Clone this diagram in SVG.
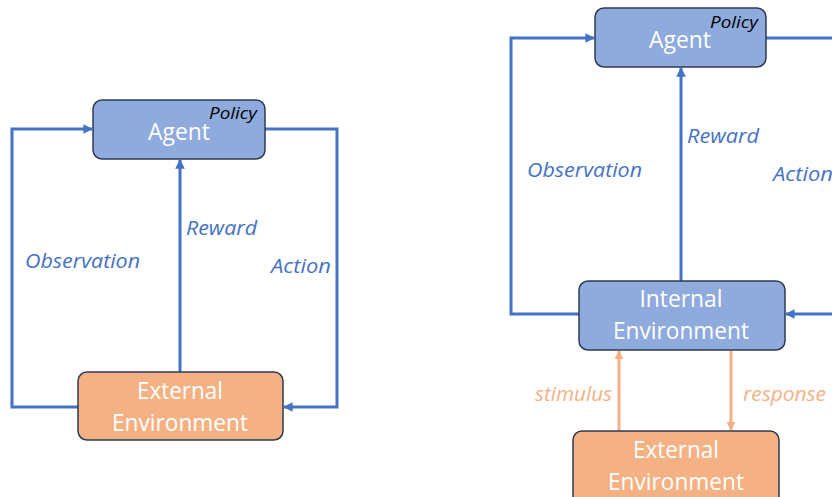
<svg xmlns="http://www.w3.org/2000/svg" width="832" height="497" viewBox="0 0 832 497">
  <style>
    .box { stroke: #2E3B55; stroke-width: 1.5; }
    .blue { fill: #8FAADC; }
    .orange { fill: #F4B183; }
    .name { font-family: "Open Sans", "Liberation Sans", sans-serif; font-size: 23px; fill: #FFFFFF; text-anchor: middle; }
    .policy { font-family: "Open Sans", "Liberation Sans", sans-serif; font-size: 16.5px; font-style: italic; fill: #000000; }
    .lbl { font-family: "Open Sans", "Liberation Sans", sans-serif; font-size: 19.5px; font-style: italic; fill: #4472C4; }
    .lblo { font-family: "Open Sans", "Liberation Sans", sans-serif; font-size: 19.5px; font-style: italic; fill: #F4B183; }
    .wire { fill: none; stroke: #4472C4; stroke-width: 3; }
    .wireo { fill: none; stroke: #F4B183; stroke-width: 3; }
  </style>
  <defs>
    <marker id="ab" viewBox="0 0 10 10" refX="9" refY="5" markerWidth="3.2" markerHeight="3.2" orient="auto" markerUnits="strokeWidth">
      <path d="M0,0 L10,5 L0,10 z" fill="#4472C4"/>
    </marker>
    <marker id="ao" viewBox="0 0 10 10" refX="9" refY="5" markerWidth="3" markerHeight="3" orient="auto" markerUnits="strokeWidth">
      <path d="M0,0 L10,5 L0,10 z" fill="#F4B183"/>
    </marker>
  </defs>

  <!-- connectors -->
  <g id="connectors">
    <!-- left loop -->
    <polyline class="wire" points="78,407 12,407 12,129 92,129" marker-end="url(#ab)"/>
    <polyline class="wire" points="265,129 337,129 337,407 284,407" marker-end="url(#ab)"/>
    <line class="wire" x1="180" y1="372" x2="180" y2="160" marker-end="url(#ab)"/>
    <!-- right loop -->
    <polyline class="wire" points="579,314 511,314 511,38 594,38" marker-end="url(#ab)"/>
    <polyline class="wire" points="766,38 840,38"/>
    <line class="wire" x1="840" y1="314" x2="786" y2="314" marker-end="url(#ab)"/>
    <line class="wire" x1="681" y1="281" x2="681" y2="68" marker-end="url(#ab)"/>
    <line class="wireo" x1="619" y1="431" x2="619" y2="351" marker-end="url(#ao)"/>
    <line class="wireo" x1="731" y1="350" x2="731" y2="430" marker-end="url(#ao)"/>
  </g>

  <!-- edge labels -->
  <g id="labels">
    <text class="lbl" x="25" y="268" textLength="115" lengthAdjust="spacingAndGlyphs">Observation</text>
    <text class="lbl" x="186" y="235" textLength="71" lengthAdjust="spacingAndGlyphs">Reward</text>
    <text class="lbl" x="271" y="273" textLength="60" lengthAdjust="spacingAndGlyphs">Action</text>
    <text class="lbl" x="527" y="177" textLength="115" lengthAdjust="spacingAndGlyphs">Observation</text>
    <text class="lbl" x="687" y="143" textLength="72" lengthAdjust="spacingAndGlyphs">Reward</text>
    <text class="lbl" x="773" y="181" textLength="60" lengthAdjust="spacingAndGlyphs">Action</text>
    <text class="lblo" x="535" y="401" textLength="77" lengthAdjust="spacingAndGlyphs">stimulus</text>
    <text class="lblo" x="743" y="401" textLength="83" lengthAdjust="spacingAndGlyphs">response</text>
  </g>

  <!-- left diagram -->
  <g id="agent-left">
    <rect class="box blue" x="93" y="100" width="172" height="59" rx="9"/>
    <text class="name" x="179" y="140" textLength="62" lengthAdjust="spacingAndGlyphs">Agent</text>
    <text class="policy" x="209" y="119" textLength="48" lengthAdjust="spacingAndGlyphs">Policy</text>
  </g>
  <g id="external-left">
    <rect class="box orange" x="78" y="372" width="205" height="68" rx="9"/>
    <text class="name" x="180" y="399" textLength="86" lengthAdjust="spacingAndGlyphs">External</text>
    <text class="name" x="180" y="431" textLength="136" lengthAdjust="spacingAndGlyphs">Environment</text>
  </g>

  <!-- right diagram -->
  <g id="agent-right">
    <rect class="box blue" x="595" y="8" width="171" height="59" rx="9"/>
    <text class="name" x="680" y="48" textLength="62" lengthAdjust="spacingAndGlyphs">Agent</text>
    <text class="policy" x="710" y="28" textLength="48" lengthAdjust="spacingAndGlyphs">Policy</text>
  </g>
  <g id="internal-right">
    <rect class="box blue" x="579" y="281" width="206" height="69" rx="9"/>
    <text class="name" x="681" y="307" textLength="83" lengthAdjust="spacingAndGlyphs">Internal</text>
    <text class="name" x="681" y="339" textLength="136" lengthAdjust="spacingAndGlyphs">Environment</text>
  </g>
  <g id="external-right">
    <rect class="box orange" x="573" y="431" width="206" height="75" rx="9"/>
    <text class="name" x="676" y="458" textLength="86" lengthAdjust="spacingAndGlyphs">External</text>
    <text class="name" x="676" y="490" textLength="136" lengthAdjust="spacingAndGlyphs">Environment</text>
  </g>
</svg>
